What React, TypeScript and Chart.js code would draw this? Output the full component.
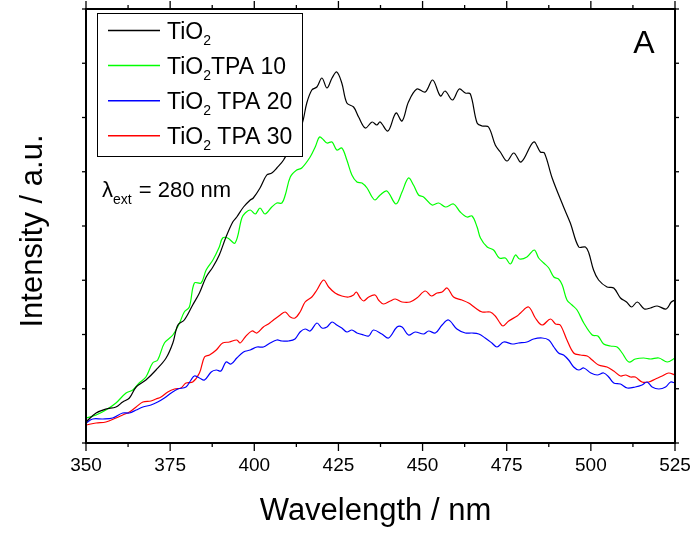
import React, { useEffect, useRef } from 'react';
import { Chart, registerables } from 'chart.js';

Chart.register(...registerables);

// ---------- data (wavelength / nm, intensity / a.u.) ----------
const tio2Wl = [350.0, 353.0, 355.9, 358.9, 360.9, 362.9, 364.9, 367.8, 370.8, 373.8, 375.8, 377.3, 379.2, 381.7, 383.7, 385.7, 387.7, 389.6, 391.6, 393.6, 394.8, 396.8, 398.8, 399.7, 401.7, 403.7, 405.2, 406.7, 408.7, 411.3, 414.1, 415.6, 417.1, 418.6, 420.1, 421.6, 423.1, 424.5, 426.0, 427.5, 429.5, 431.0, 433.0, 435.0, 436.4, 437.4, 439.7, 442.1, 443.9, 445.8, 448.3, 450.8, 453.0, 455.3, 456.7, 458.9, 460.9, 462.7, 464.2, 466.2, 467.7, 469.6, 471.6, 473.1, 475.1, 477.1, 479.3, 483.0, 485.0, 486.2, 488.5, 491.9, 493.9, 496.4, 498.4, 499.4, 500.8, 502.3, 504.8, 506.8, 508.8, 510.6, 512.1, 513.8, 515.9, 517.7, 519.7, 522.4, 523.9, 525.0];
const tio2Int = [21, 30, 34, 36, 41, 45, 56, 63, 73, 85, 100, 118, 123, 138, 150, 166, 176, 188, 206, 221, 226, 236, 243, 245, 255, 268, 270, 275, 283, 300, 318, 340, 353, 356, 365, 355, 365, 371, 360, 340, 336, 326, 315, 321, 318, 321, 312, 330, 322, 341, 354, 351, 363, 347, 352, 343, 354, 350, 349, 320, 317, 316, 298, 291, 282, 290, 281, 301, 291, 290, 265, 236, 220, 196, 196, 190, 173, 163, 156, 155, 145, 141, 136, 141, 134, 135, 137, 134, 141, 143];

const tpa10Wl = [350.0, 353.0, 355.9, 358.9, 361.9, 363.9, 365.8, 367.8, 369.8, 371.3, 373.3, 375.8, 377.8, 379.2, 380.7, 382.2, 384.2, 385.7, 387.7, 389.6, 390.6, 392.1, 394.3, 396.3, 397.3, 398.8, 400.3, 401.7, 403.2, 405.2, 406.7, 408.2, 409.2, 410.7, 412.6, 414.1, 416.6, 418.1, 419.4, 420.6, 421.6, 423.1, 424.5, 426.0, 427.5, 429.0, 430.5, 432.0, 433.5, 435.0, 435.9, 437.4, 439.4, 442.1, 443.9, 445.8, 447.3, 448.8, 450.3, 452.8, 454.8, 456.8, 459.2, 461.2, 463.2, 464.7, 466.2, 467.2, 469.2, 471.1, 472.8, 474.6, 476.1, 477.6, 478.8, 481.0, 483.2, 484.5, 486.0, 487.5, 489.0, 490.4, 491.5, 492.9, 494.4, 495.9, 497.9, 500.4, 502.1, 503.8, 505.8, 507.8, 509.3, 511.3, 513.2, 515.7, 517.7, 520.2, 522.7, 525.0];
const tpa10Int = [25, 28, 33, 40, 50, 53, 60, 66, 80, 83, 100, 108, 120, 131, 136, 160, 160, 173, 183, 196, 205, 205, 200, 225, 230, 233, 229, 235, 229, 236, 240, 240, 248, 266, 273, 275, 286, 296, 306, 303, 300, 301, 293, 295, 283, 268, 261, 260, 255, 246, 243, 248, 252, 239, 251, 265, 258, 248, 246, 238, 240, 236, 239, 231, 226, 227, 216, 205, 196, 193, 185, 185, 179, 188, 184, 186, 193, 185, 180, 175, 166, 164, 158, 143, 138, 133, 120, 108, 107, 99, 97, 96, 90, 81, 84, 85, 84, 85, 81, 85];

const tpa20Wl = [350.0, 352.0, 355.0, 357.9, 360.9, 362.9, 364.9, 366.9, 369.3, 371.3, 373.3, 375.3, 377.3, 379.7, 381.2, 382.2, 383.7, 385.2, 387.2, 388.7, 390.1, 391.6, 393.1, 394.8, 396.8, 398.8, 400.8, 402.7, 404.7, 406.7, 408.2, 410.2, 412.1, 413.6, 415.1, 416.6, 418.6, 420.1, 421.6, 423.1, 424.5, 426.0, 427.5, 429.0, 430.5, 432.5, 434.0, 435.4, 437.9, 439.9, 442.4, 443.9, 445.8, 447.8, 450.3, 451.8, 453.8, 455.8, 457.7, 460.2, 462.7, 464.7, 466.7, 468.6, 470.6, 472.1, 474.1, 476.6, 478.5, 481.0, 483.0, 485.5, 487.5, 489.0, 490.4, 491.9, 493.4, 494.9, 496.4, 497.9, 500.0, 501.9, 503.8, 505.3, 506.8, 508.8, 510.8, 513.2, 515.2, 516.7, 518.2, 520.2, 522.2, 523.7, 525.0];
const tpa20Int = [20, 24, 24, 25, 30, 30, 33, 36, 38, 41, 45, 50, 54, 56, 63, 67, 65, 63, 71, 73, 72, 81, 79, 85, 91, 93, 96, 96, 100, 103, 102, 102, 104, 111, 114, 112, 120, 115, 116, 121, 118, 115, 111, 113, 110, 108, 107, 113, 109, 105, 116, 116, 108, 111, 109, 112, 110, 118, 123, 114, 110, 110, 109, 105, 100, 96, 101, 99, 100, 101, 104, 105, 103, 96, 90, 88, 83, 76, 73, 75, 70, 68, 70, 66, 60, 59, 55, 56, 58, 61, 56, 54, 56, 61, 60];

const tpa30Wl = [350.0, 353.0, 355.9, 358.9, 360.9, 362.9, 364.9, 366.9, 369.3, 370.8, 372.3, 374.3, 376.3, 378.2, 379.7, 381.7, 383.7, 385.2, 386.7, 388.7, 390.6, 392.6, 394.8, 395.8, 397.3, 399.3, 400.8, 402.7, 404.2, 405.7, 407.7, 409.2, 410.7, 412.1, 413.6, 415.1, 417.1, 418.6, 420.6, 422.1, 424.0, 426.0, 428.0, 429.5, 430.3, 431.5, 432.5, 434.0, 435.9, 436.9, 438.4, 440.4, 441.9, 443.9, 446.3, 448.3, 450.8, 452.6, 454.3, 455.8, 457.3, 459.2, 461.7, 463.7, 465.7, 467.7, 470.1, 471.6, 472.8, 473.9, 475.6, 478.1, 479.1, 481.5, 483.5, 485.5, 488.0, 489.5, 490.9, 492.9, 494.9, 496.9, 498.9, 500.4, 502.3, 504.8, 506.8, 508.8, 510.3, 511.8, 513.2, 515.2, 517.2, 519.2, 521.2, 523.1, 525.0];
const tpa30Int = [18, 20, 21, 25, 28, 31, 36, 41, 42, 44, 46, 51, 54, 55, 60, 61, 70, 86, 88, 93, 100, 101, 103, 100, 106, 112, 110, 116, 119, 123, 128, 131, 126, 125, 131, 141, 146, 153, 163, 156, 150, 147, 146, 148, 151, 145, 142, 146, 148, 143, 139, 142, 144, 141, 141, 145, 152, 147, 150, 151, 155, 146, 143, 140, 135, 131, 131, 127, 121, 117, 122, 127, 130, 136, 125, 118, 124, 119, 118, 103, 90, 88, 87, 83, 78, 76, 72, 67, 68, 66, 66, 61, 61, 64, 67, 70, 68];

const seriesSubText = ['', 'TPA 10', ' TPA 20', ' TPA 30'];
const seriesNames = ['TiO2', 'TiO2TPA 10', 'TiO2 TPA 20', 'TiO2 TPA 30'];
const seriesColors = ['#000000', '#00ff00', '#0000ff', '#ff0000'];

const xMin = 350;
const xMax = 525;
const xMajorStep = 25;
const xMinorStep = 12.5;
const yMin = 0;
const yMax = 434;
const yTickCount = 8;

const FONT = '"Liberation Sans", Arial, Helvetica, sans-serif';

const toPoints = (wl: number[], val: number[]) => wl.map((x, i) => ({ x, y: val[i] }));

const decorPlugin = {
  id: 'decor',
  afterDatasetsDraw(chart: any) {
    const { ctx, chartArea: a, scales } = chart;
    const xs = scales.x;
    const ys = scales.y;
    ctx.save();
    const seg = (x1: number, y1: number, x2: number, y2: number) => {
      ctx.beginPath();
      ctx.moveTo(x1, y1);
      ctx.lineTo(x2, y2);
      ctx.stroke();
    };
    // frame
    ctx.strokeStyle = '#000';
    ctx.lineWidth = 2;
    ctx.strokeRect(a.left, a.top, a.right - a.left, a.bottom - a.top);
    // x ticks (bottom & top, outward)
    ctx.lineWidth = 1.3;
    for (let v = xMin; v <= xMax + 1e-6; v += xMinorStep) {
      const px = xs.getPixelForValue(v);
      const major = Math.abs((v - xMin) / xMajorStep - Math.round((v - xMin) / xMajorStep)) < 1e-6;
      const len = major ? 8 : 4;
      seg(px, a.bottom, px, a.bottom + len);
      seg(px, a.top, px, a.top - len);
    }
    // y ticks (left & right, outward)
    for (let k = 0; k <= yTickCount; k++) {
      const v = yMin + ((yMax - yMin) * k) / yTickCount;
      const py = ys.getPixelForValue(v);
      seg(a.left, py, a.left - 4, py);
      seg(a.right, py, a.right + 4, py);
    }

    // legend box
    const bx = a.left + 11;
    const by = a.top + 4;
    const bw = 205;
    const bh = 143;
    ctx.fillStyle = '#fff';
    ctx.fillRect(bx, by, bw, bh);
    ctx.strokeStyle = '#000';
    ctx.lineWidth = 1;
    ctx.strokeRect(bx + 0.5, by + 0.5, bw, bh);
    ctx.textAlign = 'left';
    ctx.textBaseline = 'alphabetic';
    for (let i = 0; i < seriesNames.length; i++) {
      const base = by + 25.5 + i * 35.1;
      ctx.strokeStyle = seriesColors[i];
      ctx.lineWidth = 1.5;
      seg(bx + 11, base - 8, bx + 63, base - 8);
      ctx.fillStyle = '#000';
      ctx.font = `23px ${FONT}`;
      let tx = bx + 70;
      ctx.fillText('TiO', tx, base);
      tx += ctx.measureText('TiO').width;
      ctx.font = `14px ${FONT}`;
      ctx.fillText('2', tx, base + 6.5);
      tx += ctx.measureText('2').width;
      ctx.font = `23px ${FONT}`;
      ctx.fillText(seriesSubText[i], tx, base);
    }

    // excitation wavelength note
    ctx.fillStyle = '#000';
    ctx.font = `22px ${FONT}`;
    let lx = a.left + 16;
    const lb = 196.5;
    ctx.fillText('\u03bb', lx, lb);
    lx += ctx.measureText('\u03bb').width;
    ctx.font = `14px ${FONT}`;
    ctx.fillText('ext', lx, lb + 7.5);
    lx += ctx.measureText('ext').width;
    ctx.font = `22px ${FONT}`;
    ctx.fillText(' = 280 nm', lx + 1, lb);

    // panel letter
    ctx.font = `32px ${FONT}`;
    ctx.textAlign = 'center';
    ctx.fillText('A', a.right - 31, 53);
    ctx.restore();
  },
  afterDraw(chart: any) {
    const { ctx, chartArea: a } = chart;
    ctx.save();
    ctx.fillStyle = '#000';
    ctx.font = `31px ${FONT}`;
    ctx.textAlign = 'center';
    ctx.textBaseline = 'alphabetic';
    ctx.fillText('Wavelength / nm', (a.left + a.right) / 2 - 5, 520);
    ctx.translate(42, (a.top + a.bottom) / 2 + 5);
    ctx.rotate(-Math.PI / 2);
    ctx.fillText('Intensity / a.u.', 0, 0);
    ctx.restore();
  },
};

export default function App() {
  const canvasRef = useRef<HTMLCanvasElement | null>(null);

  useEffect(() => {
    const canvas = canvasRef.current;
    if (!canvas) return;
    const seriesData = [
      toPoints(tio2Wl, tio2Int),
      toPoints(tpa10Wl, tpa10Int),
      toPoints(tpa20Wl, tpa20Int),
      toPoints(tpa30Wl, tpa30Int),
    ];
    const chart = new Chart(canvas, {
      type: 'line',
      data: {
        datasets: seriesNames.map((name, i) => ({
          label: name,
          data: seriesData[i],
          borderColor: seriesColors[i],
          backgroundColor: seriesColors[i],
          borderWidth: 1.2,
          pointRadius: 0,
          tension: 0.35,
          fill: false,
        })),
      },
      options: {
        animation: false,
        responsive: false,
        devicePixelRatio: 1,
        layout: { padding: { left: 86, right: 19, top: 9, bottom: 0 } },
        plugins: {
          legend: { display: false },
          tooltip: { enabled: false },
        },
        scales: {
          x: {
            type: 'linear',
            min: xMin,
            max: xMax,
            grid: { display: false, drawTicks: false },
            border: { display: false },
            ticks: {
              stepSize: xMajorStep,
              color: '#000',
              font: { family: FONT, size: 19 },
              padding: 11,
              maxRotation: 0,
              autoSkip: false,
            },
            afterFit: (s: any) => {
              s.height = 91;
              s.paddingLeft = 0;
              s.paddingRight = 0;
            },
          },
          y: {
            type: 'linear',
            display: false,
            min: yMin,
            max: yMax,
          },
        },
      },
      plugins: [decorPlugin],
    } as any);
    return () => chart.destroy();
  }, []);

  return (
    <div style={{ position: 'absolute', left: 0, top: 0, width: 694, height: 534, background: '#fff' }}>
      <canvas ref={canvasRef} width={694} height={534} style={{ display: 'block', width: 694, height: 534 }} />
    </div>
  );
}
